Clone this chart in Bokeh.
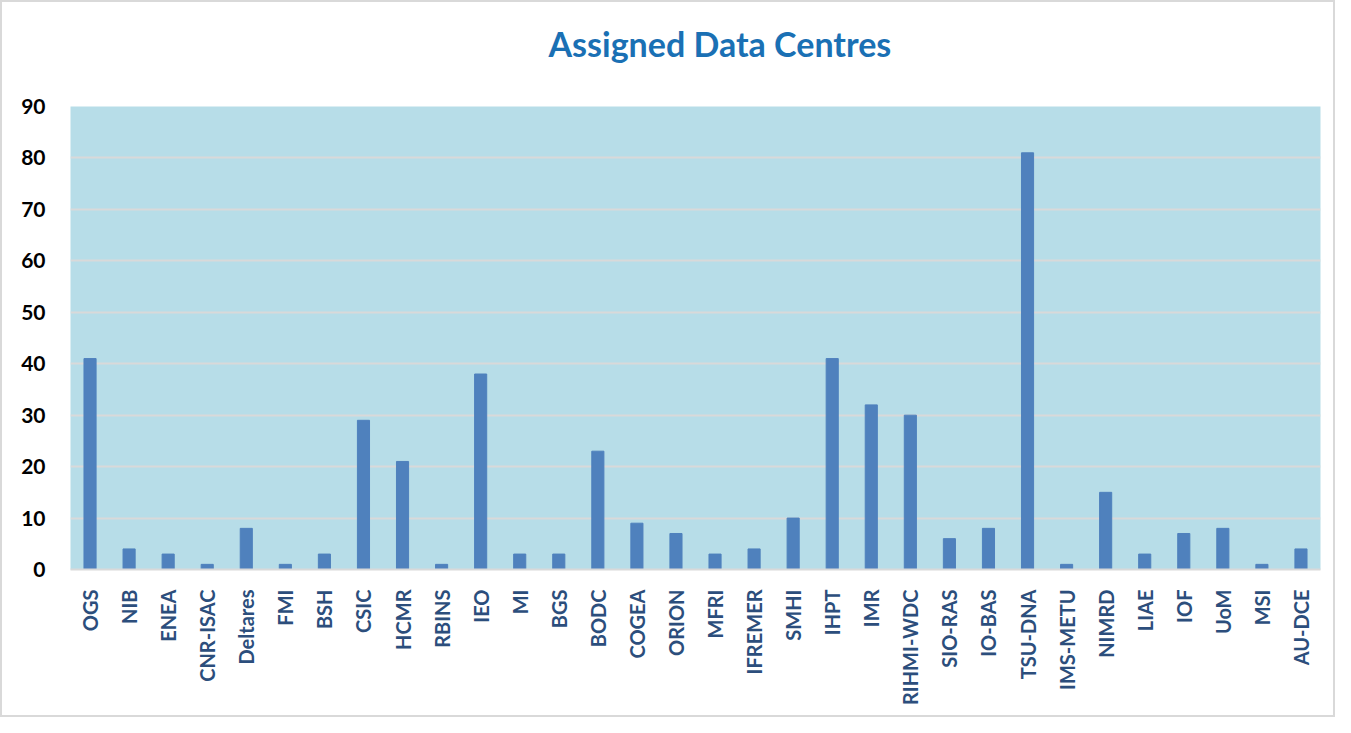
import math
from bokeh.plotting import figure
from bokeh.models import ColumnDataSource, Range1d, FixedTicker, Title
from bokeh.embed import file_html
from bokeh.resources import INLINE

centres = ["OGS", "NIB", "ENEA", "CNR-ISAC", "Deltares", "FMI", "BSH", "CSIC", "HCMR",
           "RBINS", "IEO", "MI", "BGS", "BODC", "COGEA", "ORION", "MFRI", "IFREMER",
           "SMHI", "IHPT", "IMR", "RIHMI-WDC", "SIO-RAS", "IO-BAS", "TSU-DNA",
           "IMS-METU", "NIMRD", "LIAE", "IOF", "UoM", "MSI", "AU-DCE"]
counts = [41, 4, 3, 1, 8, 1, 3, 29, 21, 1, 38, 3, 3, 23, 9, 7, 3, 4, 10, 41, 32, 30,
          6, 8, 81, 1, 15, 3, 7, 8, 1, 4]
y_ticks = [0, 10, 20, 30, 40, 50, 60, 70, 80, 90]
title_text = "Assigned Data Centres"

src = ColumnDataSource(data=dict(centre=centres, count=counts))

p = figure(x_range=centres, y_range=Range1d(0, 90), width=1335, height=717,
           output_backend="svg", toolbar_location=None,
           min_border_left=68, min_border_right=17, min_border_top=10, min_border_bottom=150,
           title=title_text)
p.styles = {"border": "2px solid #d9d9d9", "box-sizing": "border-box"}

# spacer between title and plot area
p.add_layout(Title(text=" ", text_font_size="1px", standoff=22), "above")

p.title.align = "left"
p.title.offset = 478
p.title.text_font = "Lato"
p.title.text_font_size = "34px"
p.title.text_font_style = "bold"
p.title.text_color = "#1a70b4"
p.title.standoff = 36

p.vbar(x="centre", top="count", width=0.31, source=src, color="#4f81bd")

p.background_fill_color = "#b7dde8"
p.border_fill_color = "white"
p.outline_line_color = None
p.x_range.range_padding = 0

p.ygrid.grid_line_color = "#d9d9d9"
p.ygrid.grid_line_width = 2
p.xgrid.grid_line_color = None

p.yaxis.ticker = FixedTicker(ticks=y_ticks)
p.yaxis.axis_line_color = None
p.yaxis.major_tick_line_color = None
p.yaxis.minor_tick_line_color = None
p.yaxis.major_label_text_font = "Lato"
p.yaxis.major_label_text_font_size = "21px"
p.yaxis.major_label_text_font_style = "bold"
p.yaxis.major_label_text_color = "black"
p.yaxis.major_label_standoff = 19

p.xaxis.axis_line_color = "#d9d9d9"
p.xaxis.axis_line_width = 2
p.xaxis.major_tick_line_color = None
p.xaxis.minor_tick_line_color = None
p.xaxis.major_label_orientation = math.pi / 2
p.xaxis.major_label_text_font = "Lato"
p.xaxis.major_label_text_font_size = "20px"
p.xaxis.major_label_text_font_style = "bold"
p.xaxis.major_label_text_color = "#2c4e7c"
p.xaxis.major_label_standoff = 14

open("out.html", "w").write(file_html(p, INLINE))
